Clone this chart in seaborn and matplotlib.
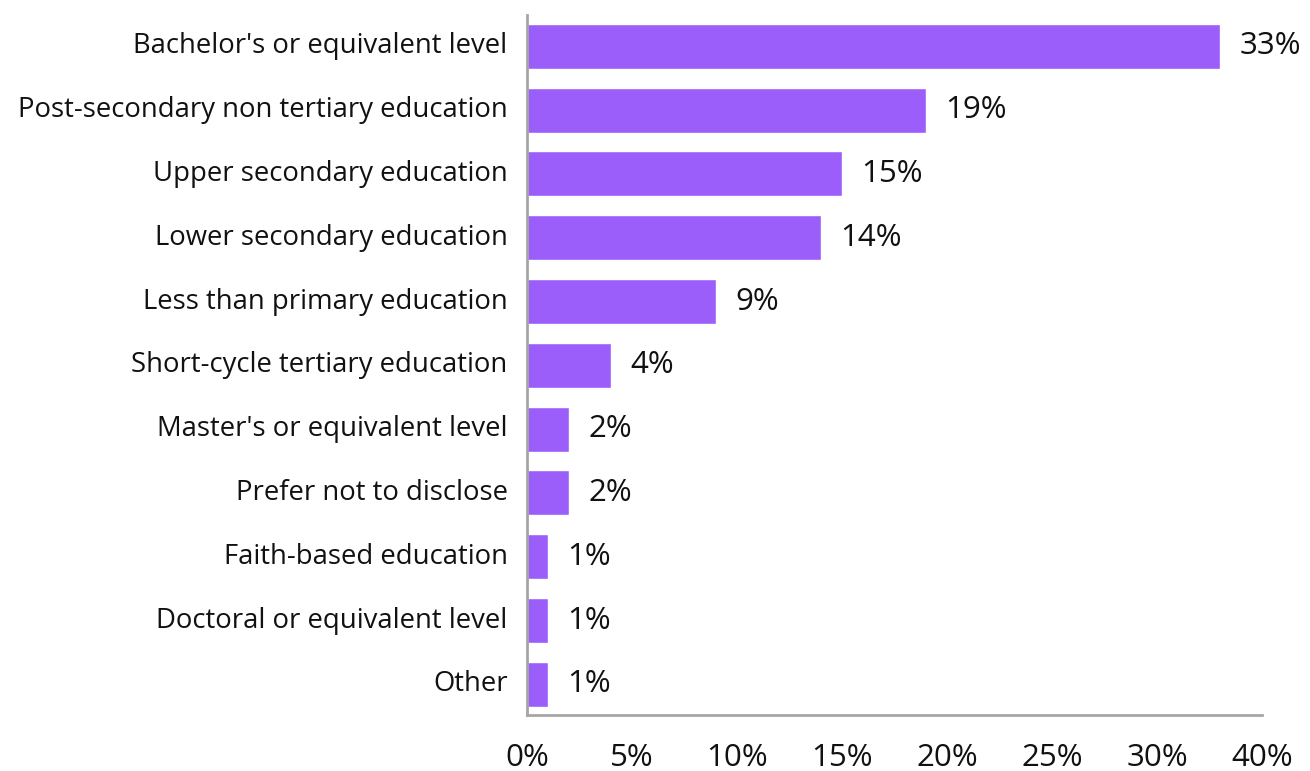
import matplotlib
matplotlib.use("Agg")
import matplotlib.pyplot as plt
import seaborn as sns
import pandas as pd

# Highest level of education completed (share of respondents)
categories = [
    "Bachelor's or equivalent level",
    "Post-secondary non tertiary education",
    "Upper secondary education",
    "Lower secondary education",
    "Less than primary education",
    "Short-cycle tertiary education",
    "Master's or equivalent level",
    "Prefer not to disclose",
    "Faith-based education",
    "Doctoral or equivalent level",
    "Other",
]
shares = [33, 19, 15, 14, 9, 4, 2, 2, 1, 1, 1]
tick_values = [0, 5, 10, 15, 20, 25, 30, 35]
tick_labels = ["0%", "5%", "10%", "15%", "20%", "25%", "30%", "40%"]

sns.set_theme(style="white")
plt.rcParams["font.family"] = ["Open Sans", "DejaVu Sans"]

df = pd.DataFrame({"category": categories, "share": shares})

fig = plt.figure(figsize=(13.10, 7.71), dpi=100)
ax = fig.add_axes([0.4023, 0.0726, 0.5611, 0.9079])

sns.barplot(data=df, x="share", y="category", orient="h",
            color="#9c5efb", saturation=1, width=0.705, ax=ax)

for c in ax.containers:
    ax.bar_label(c, labels=[f"{v}%" for v in shares], padding=14,
                 fontsize=22.5, color="#111111")

ax.set_xlim(0, 35)
ax.set_ylim(10.48, -0.49)
ax.set_xticks(tick_values)
ax.set_xticklabels(tick_labels)
ax.set_xlabel("")
ax.set_ylabel("")

for side in ("top", "right"):
    ax.spines[side].set_visible(False)
for side in ("left", "bottom"):
    ax.spines[side].set_color("#a6a6a6")
    ax.spines[side].set_linewidth(2)

ax.tick_params(axis="x", direction="in", length=11, width=1.5,
               color="#a6a6a6", labelsize=22.5, labelcolor="#111111", pad=20)
ax.tick_params(axis="y", length=0, labelsize=19.8, labelcolor="#111111", pad=14)
for lbl in ax.get_yticklabels():
    lbl.set_verticalalignment("center")
ax.grid(False)

fig.savefig("out.png", dpi=100)
